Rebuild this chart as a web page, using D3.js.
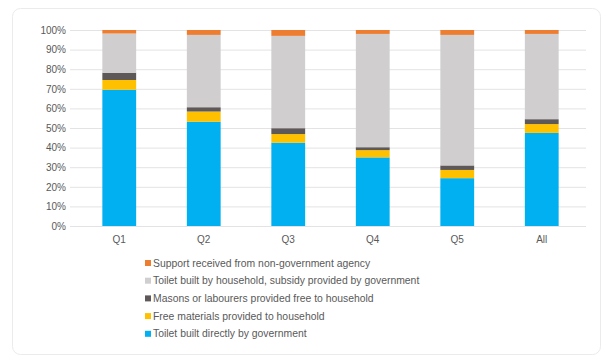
<!DOCTYPE html>
<html><head><meta charset="utf-8">
<script src="https://cdn.jsdelivr.net/npm/d3@7/dist/d3.min.js"></script>
<style>body{margin:0;background:#fff;}svg{display:block;font-family:"Liberation Sans",Arial,sans-serif;}</style>
</head><body>
<script>
const categories = ["Q1","Q2","Q3","Q4","Q5","All"];
const seriesNames = [
  "Toilet built directly by government",
  "Free materials provided to household",
  "Masons or labourers provided free to household",
  "Toilet built by household, subsidy provided by government",
  "Support received from non-government agency"
];
const builtByGov   = [69.5, 53.2, 42.5, 35.0, 24.4, 47.5];
const freeMaterials= [5.0, 5.2, 4.4, 3.7, 4.2, 4.5];
const masons       = [3.7, 2.2, 3.0, 1.5, 2.3, 2.5];
const subsidy      = [20.0, 36.9, 47.1, 57.8, 66.6, 43.5];
const ngo          = [1.8, 2.5, 3.0, 2.0, 2.5, 2.0];
const yTicks = [0,10,20,30,40,50,60,70,80,90,100];
const colors = ["#00B0F0","#FFC000","#5E5858","#D0CECE","#ED7D31"];

const W=606,H=360;
const svg=d3.select("body").append("svg").attr("width",W).attr("height",H);
svg.append("rect").attr("x",12.5).attr("y",8.5).attr("width",588).attr("height",346)
  .attr("rx",8).attr("fill","#fff").attr("stroke","#ebebeb");

const x=d3.scaleBand().domain(categories).range([77,584]).paddingInner(0.6).paddingOuter(0.3);
const y=d3.scaleLinear().domain([0,100]).range([226,30]);

const g=svg.append("g");
g.selectAll("line.grid").data(yTicks).join("line")
  .attr("x1",70).attr("x2",586).attr("y1",d=>y(d)+0.5).attr("y2",d=>y(d)+0.5)
  .attr("stroke","#e3e3e3").attr("stroke-width",1);

const yAxis=d3.axisLeft(y).tickValues(yTicks).tickFormat(d=>d+"%").tickSize(0).tickPadding(0);
const ya=svg.append("g").attr("transform","translate(66,0)").call(yAxis);
ya.select(".domain").remove();
ya.selectAll("text").attr("font-size",10).attr("fill","#595959").attr("font-family","Liberation Sans, Arial, sans-serif");

const rows=categories.map((c,i)=>({cat:c,s0:builtByGov[i],s1:freeMaterials[i],s2:masons[i],s3:subsidy[i],s4:ngo[i]}));
const stack=d3.stack().keys(["s0","s1","s2","s3","s4"])(rows);
svg.append("g").selectAll("g").data(stack).join("g").attr("fill",(d,i)=>colors[i])
  .selectAll("rect").data(d=>d).join("rect")
  .attr("x",d=>x(d.data.cat)).attr("width",x.bandwidth())
  .attr("y",d=>y(d[1])).attr("height",d=>y(d[0])-y(d[1]));

const xAxis=d3.axisBottom(x).tickSize(0).tickPadding(10);
const xa=svg.append("g").attr("transform","translate(0,226)").call(xAxis);
xa.select(".domain").remove();
xa.selectAll("text").attr("font-size",10).attr("fill","#595959").attr("font-family","Liberation Sans, Arial, sans-serif");

const legOrder=[4,3,2,1,0];
const leg=svg.append("g");
legOrder.forEach((si,k)=>{
  const yy=263+k*17.7;
  leg.append("rect").attr("x",145).attr("y",yy-3).attr("width",6).attr("height",6).attr("fill",colors[si]);
  leg.append("text").attr("x",153).attr("y",yy).attr("dy","0.35em").attr("font-size",10.4)
    .attr("fill","#595959").text(seriesNames[si]);
});
</script>
</body></html>
